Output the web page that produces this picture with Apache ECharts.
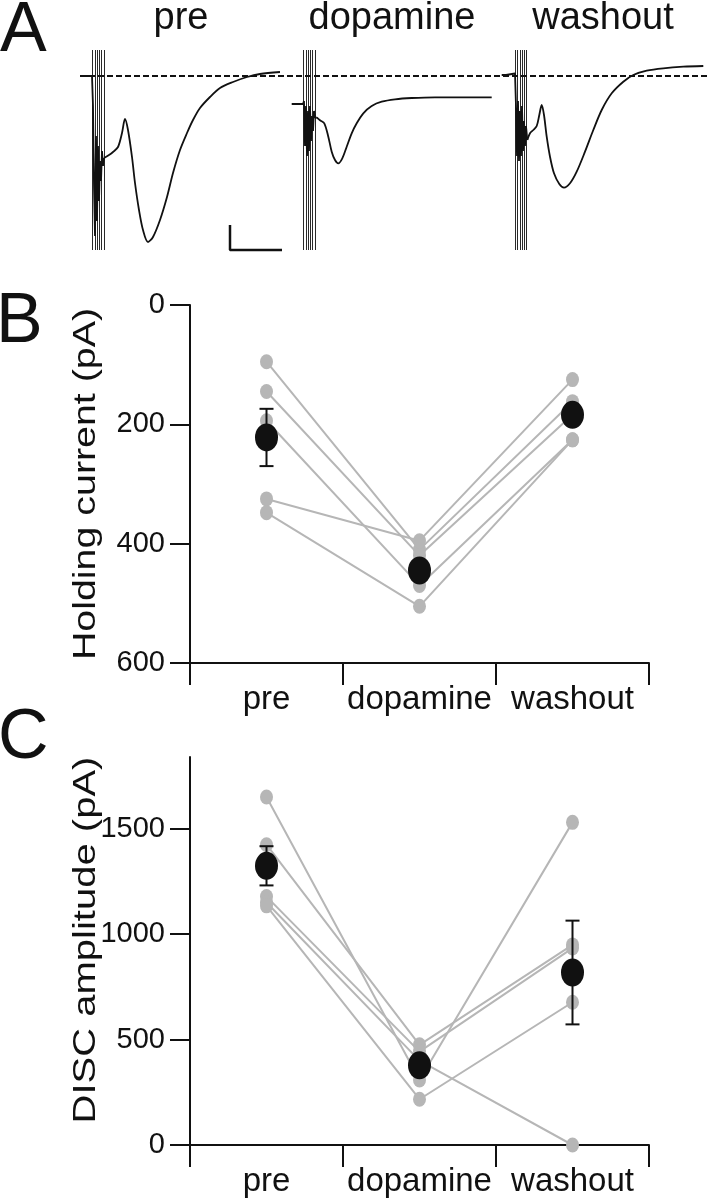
<!DOCTYPE html>
<html><head><meta charset="utf-8">
<script src="https://cdn.jsdelivr.net/npm/echarts@6/dist/echarts.min.js"></script>
<style>html,body{margin:0;padding:0;background:#fff}#c{width:707px;height:1199px}</style>
</head><body><div id="c"></div>
<script>
// ---------- data ----------
const conditions = ['pre', 'dopamine', 'washout'];

// Panel B: holding current (pA) per cell
const holdingCell1 = [95, 410, 162];
const holdingCell2 = [145, 420, 184];
const holdingCell3 = [194, 470, 226];
const holdingCell4 = [325, 395, 125];
const holdingCell5 = [348, 505, 226];
const holdingMean = [222, 445, 184];
const holdingSem = [48, 15, 12];
const holdingTicks = [0, 200, 400, 600];

// Panel C: DISC amplitude (pA) per cell
const discCell1 = [1650, 308, 1530];
const discCell2 = [1424, 475, 949];
const discCell3 = [1178, 443, 934];
const discCell4 = [1150, 400, 0];
const discCell5 = [1134, 217, 677];
const discMean = [1324, 378, 818];
const discSem = [93, 45, 246];
const discTicks = [0, 500, 1000, 1500];

// Panel A: example traces [time (ms), current (pA)]
const preArtifact = [[0,0],[12,0],[13,-300],[14,-1100],[15,-1600],[16,-600],[17,-1450],[18,-700],[19,-1250],[20,-850],[21,-1050],[22,-750],[23,-900],[24,-820]];
const preResponse = [[24,-820],[29,-790],[33,-760],[38,-710],[42,-570],[45,-430],[48,-540],[52,-810],[55,-1070],[59,-1340],[63,-1540],[68,-1660],[73,-1610],[80,-1440],[87,-1210],[93,-970],[100,-740],[107,-570],[113,-440],[120,-320],[130,-210],[140,-120],[153,-60],[167,-10],[180,20],[200,40]];
const dopArtifact = [[211.7,-280],[223,-280],[224,-250],[225,-700],[226,-300],[227,-800],[228,-350],[229,-750],[230,-300],[231,-650],[232,-400],[233,-550],[234,-350],[235.5,-420],[236.7,-413]];
const dopResponse = [[236.7,-413],[240,-443],[244.3,-473],[248.3,-607],[251.7,-757],[255,-840],[258.3,-873],[262.3,-823],[266.7,-707],[271.7,-573],[276.7,-473],[283.3,-373],[291.7,-300],[301.7,-257],[315,-233],[331.7,-220],[355,-213],[381.7,-213],[411.7,-213]];
const washArtifact = [[421.7,10],[426,10],[427,30],[435,25],[436,-300],[437,-800],[438,-250],[439,-850],[440,-350],[441,-800],[442,-300],[443,-750],[444,-450],[445,-700],[446,-500],[447.3,-640]];
const washResponse = [[447.3,-640],[450,-573],[453.3,-540],[456.7,-500],[459.3,-390],[461.7,-290],[464,-390],[466.7,-607],[470,-807],[474,-973],[479.3,-1080],[484,-1117],[490,-1073],[496.7,-957],[505,-757],[513.3,-540],[521.7,-340],[531.7,-173],[543.3,-57],[553.3,10],[566.7,53],[583.3,77],[603.3,93],[623.3,100]];
const stimTimes = [12.5,14.8,17.1,19.4,21.7,24, 223.5,225.8,228.1,230.4,232.7,235, 435.2,437.5,439.8,442.1,444.4,446.7];
const stimRange = [260, -1740];
const baselineRange = [0, 627];
const scaleBarTime = 52;      // ms
const scaleBarCurrent = 250;  // pA
const scaleBarAnchor = [150, -1740];

// ---------- chart ----------
const FONT = "'Liberation Sans', Arial, Helvetica, sans-serif";
const INK = '#111111';
const GRAY = '#b6b6b6';
const chart = echarts.init(document.getElementById('c'), null, {renderer: 'canvas'});

function catAxis(gi) {
  return {
    gridIndex: gi, type: 'category', data: conditions, boundaryGap: true,
    axisLine: {onZero: false, lineStyle: {color: INK, width: 2}},
    axisTick: {show: true, alignWithLabel: false, interval: 0, length: 22, lineStyle: {color: INK, width: 2}},
    axisLabel: {interval: 0, fontSize: 33, color: INK, margin: 20, fontFamily: FONT, hideOverlap: false},
    splitLine: {show: false}
  };
}
function valAxisStyle() {
  return {
    axisLine: {show: true, lineStyle: {color: INK, width: 2}},
    axisTick: {show: true, inside: false, length: 20, lineStyle: {color: INK, width: 2}},
    axisLabel: {fontSize: 29, color: INK, margin: 25, fontFamily: FONT, formatter: v => String(v)},
    splitLine: {show: false}
  };
}

function cellSeries(data, xi, yi) {
  return {
    type: 'line', xAxisIndex: xi, yAxisIndex: yi, data: data,
    symbol: 'circle', symbolSize: [13, 15], showSymbol: true,
    itemStyle: {color: GRAY, opacity: 1}, lineStyle: {color: GRAY, width: 2},
    z: 2, silent: true
  };
}
function errSeries(mean, sem, xi, yi) {
  return {
    type: 'custom', xAxisIndex: xi, yAxisIndex: yi, z: 4,
    data: mean.map((m, i) => [i, m - sem[i], m + sem[i]]),
    renderItem: function (params, api) {
      const lo = api.coord([api.value(0), api.value(1)]);
      const hi = api.coord([api.value(0), api.value(2)]);
      const hw = 7;
      const st = {stroke: INK, lineWidth: 2};
      return {type: 'group', children: [
        {type: 'line', shape: {x1: lo[0], y1: lo[1], x2: hi[0], y2: hi[1]}, style: st},
        {type: 'line', shape: {x1: lo[0] - hw, y1: lo[1], x2: lo[0] + hw, y2: lo[1]}, style: st},
        {type: 'line', shape: {x1: hi[0] - hw, y1: hi[1], x2: hi[0] + hw, y2: hi[1]}, style: st}
      ]};
    }
  };
}
function meanSeries(mean, xi, yi) {
  return {
    type: 'scatter', xAxisIndex: xi, yAxisIndex: yi, z: 5,
    data: mean.map((m, i) => [i, m]),
    symbol: 'circle', symbolSize: [23, 28], itemStyle: {color: INK, opacity: 1}
  };
}
function traceSeries(data, smooth) {
  return {
    type: 'line', xAxisIndex: 0, yAxisIndex: 0, data: data, showSymbol: false, symbol: 'none',
    smooth: smooth ? 0.3 : false,
    lineStyle: {color: INK, width: 1.8}, z: 3, silent: true
  };
}

const titleStyle = {fontSize: 38, fontFamily: FONT, fill: INK, align: 'center', verticalAlign: 'middle'};
const letterStyle = {fontSize: 70, fontFamily: FONT, fill: INK, align: 'left', verticalAlign: 'middle'};

const option = {
  animation: false,
  backgroundColor: '#fff',
  textStyle: {fontFamily: FONT},
  grid: [
    {left: 80, top: 40, width: 627, height: 220},
    {left: 190, top: 305, width: 459, height: 358},
    {left: 190, top: 757, width: 459, height: 388}
  ],
  xAxis: [
    {gridIndex: 0, type: 'value', min: 0, max: 627, show: false},
    catAxis(1),
    catAxis(2)
  ],
  yAxis: [
    {gridIndex: 0, type: 'value', min: -1840, max: 360, show: false},
    Object.assign({gridIndex: 1, type: 'value', inverse: true, min: 0, max: 600, interval: 200}, valAxisStyle()),
    (function () {
      const a = Object.assign({gridIndex: 2, type: 'value', min: 0, max: 1840}, valAxisStyle());
      a.axisTick = Object.assign({}, a.axisTick, {customValues: discTicks});
      a.axisLabel = Object.assign({}, a.axisLabel, {customValues: discTicks});
      return a;
    })()
  ],
  series: [
    // Panel A
    {type: 'line', xAxisIndex: 0, yAxisIndex: 0, data: [[baselineRange[0], 0], [baselineRange[1], 0]],
     symbol: 'none', lineStyle: {color: INK, width: 2, type: [6, 3]}, z: 2, silent: true},
    {type: 'lines', coordinateSystem: 'cartesian2d', xAxisIndex: 0, yAxisIndex: 0, z: 2, silent: true,
     data: stimTimes.map(t => ({coords: [[t, stimRange[0]], [t, stimRange[1]]]})),
     lineStyle: {color: '#2a2a2a', width: 1, opacity: 1}},
    traceSeries(preArtifact, false), traceSeries(preResponse, true),
    traceSeries(dopArtifact, false), traceSeries(dopResponse, true),
    traceSeries(washArtifact, false), traceSeries(washResponse, true),
    {type: 'line', xAxisIndex: 0, yAxisIndex: 0, symbol: 'none', silent: true,
     data: [[scaleBarAnchor[0], scaleBarAnchor[1] + scaleBarCurrent], scaleBarAnchor, [scaleBarAnchor[0] + scaleBarTime, scaleBarAnchor[1]]],
     lineStyle: {color: INK, width: 2.5}},
    // Panel B
    cellSeries(holdingCell1, 1, 1), cellSeries(holdingCell2, 1, 1), cellSeries(holdingCell3, 1, 1),
    cellSeries(holdingCell4, 1, 1), cellSeries(holdingCell5, 1, 1),
    errSeries(holdingMean, holdingSem, 1, 1), meanSeries(holdingMean, 1, 1),
    // Panel C
    cellSeries(discCell1, 2, 2), cellSeries(discCell2, 2, 2), cellSeries(discCell3, 2, 2),
    cellSeries(discCell4, 2, 2), cellSeries(discCell5, 2, 2),
    errSeries(discMean, discSem, 2, 2), meanSeries(discMean, 2, 2)
  ],
  graphic: [
    {type: 'text', x: 0, y: 32, style: Object.assign({text: 'A'}, letterStyle)},
    {type: 'text', x: -4, y: 323, style: Object.assign({text: 'B'}, letterStyle)},
    {type: 'text', x: -2, y: 739, style: Object.assign({text: 'C'}, letterStyle)},
    {type: 'text', x: 181, y: 19, style: Object.assign({text: conditions[0]}, titleStyle)},
    {type: 'text', x: 392, y: 19, style: Object.assign({text: conditions[1]}, titleStyle)},
    {type: 'text', x: 603, y: 19, style: Object.assign({text: conditions[2]}, titleStyle)},
    {type: 'text', x: 86, y: 484, rotation: Math.PI / 2, scaleX: 1.23,
     style: {text: 'Holding current (pA)', fontSize: 32, fontFamily: FONT, fill: INK, align: 'center', verticalAlign: 'middle'}},
    {type: 'text', x: 86, y: 940, rotation: Math.PI / 2, scaleX: 1.25,
     style: {text: 'DISC amplitude (pA)', fontSize: 32, fontFamily: FONT, fill: INK, align: 'center', verticalAlign: 'middle'}}
  ]
};
chart.setOption(option);
</script>
</body></html>
